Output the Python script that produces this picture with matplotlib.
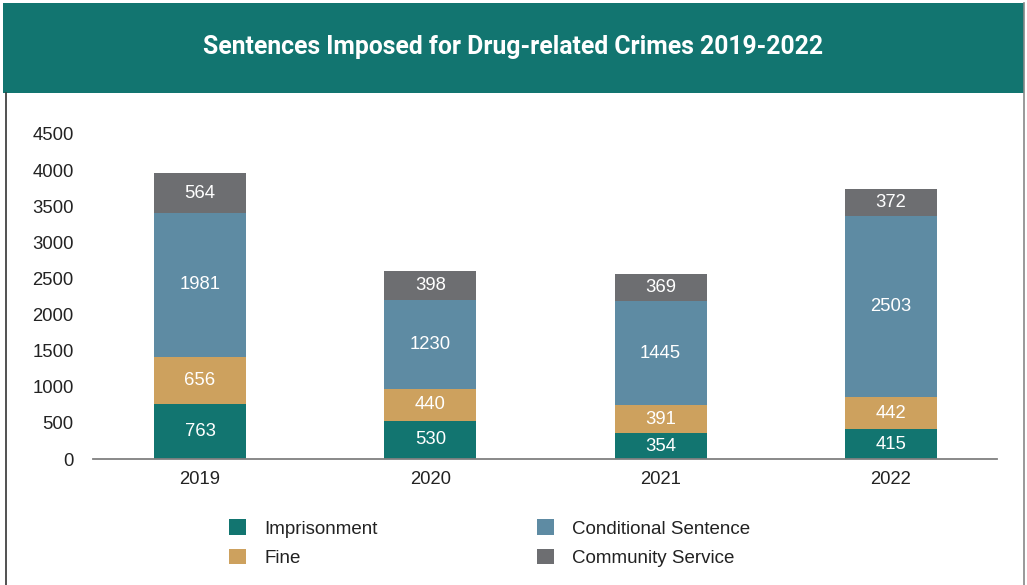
import matplotlib.pyplot as plt
from matplotlib.patches import Rectangle
from matplotlib.lines import Line2D
import numpy as np

years = ['2019', '2020', '2021', '2022']
imprisonment = [763, 530, 354, 415]
fine = [656, 440, 391, 442]
conditional = [1981, 1230, 1445, 2503]
community = [564, 398, 369, 372]

series = [
    ('Imprisonment', imprisonment, '#127570'),
    ('Fine', fine, '#CDA15E'),
    ('Conditional Sentence', conditional, '#5E8BA3'),
    ('Community Service', community, '#6D6E71'),
]

plt.rcParams['font.family'] = ['Liberation Sans', 'DejaVu Sans']

W, H = 1027, 585
fig = plt.figure(figsize=(W / 100, H / 100), dpi=100)

# header band and frame
fig.patches.append(Rectangle((3 / W, 1 - 93 / H), 1021 / W, 90 / H,
                             transform=fig.transFigure, facecolor='#127570',
                             edgecolor='none', zorder=0))
fig.lines.append(Line2D([5.5 / W, 5.5 / W], [0, 1 - 93 / H], transform=fig.transFigure,
                        color='#333333', lw=1.2))
fig.lines.append(Line2D([1023.5 / W, 1023.5 / W], [0, 1 - 3 / H], transform=fig.transFigure,
                        color='#888888', lw=1.2))
fig.text(0.5, 1 - 47 / H, 'Sentences Imposed for Drug-related Crimes 2019-2022',
         ha='center', va='center', color='white', fontsize=17.8, fontweight='bold',
         family=['Roboto', 'DejaVu Sans'])

ax = fig.add_axes([93 / W, 126 / H, 904 / W, 325 / H])
x = np.arange(len(years))
bottom = np.zeros(len(years))
for name, vals, color in series:
    bars = ax.bar(x, vals, 0.40, bottom=bottom, color=color, label=name, zorder=2)
    ax.bar_label(bars, labels=[str(v) for v in vals], label_type='center',
                 color='white', fontsize=13.3)
    bottom += np.array(vals)

ax.set_xlim((93 - 200) / 230.3, (997 - 200) / 230.3)
ax.set_ylim(0, 4500)
ax.set_yticks(range(0, 4501, 500))
ax.set_xticks(x)
ax.set_xticklabels(years)
ax.tick_params(axis='both', length=0, labelsize=13.3, colors='#222222')
ax.tick_params(axis='y', pad=14)
ax.tick_params(axis='x', pad=9)
for s in ['top', 'right', 'left']:
    ax.spines[s].set_visible(False)
ax.spines['bottom'].set_color('#808080')
ax.spines['bottom'].set_linewidth(1.3)

ax.legend(loc='upper left', bbox_to_anchor=(220 / W, 1 - 510 / H),
          bbox_transform=fig.transFigure, ncol=2, frameon=False,
          fontsize=13.5, handlelength=0.9, handleheight=0.9,
          handletextpad=0.95, columnspacing=8.5, labelspacing=0.58,
          borderpad=0, labelcolor='#222222')

fig.savefig('out.png', dpi=100)
